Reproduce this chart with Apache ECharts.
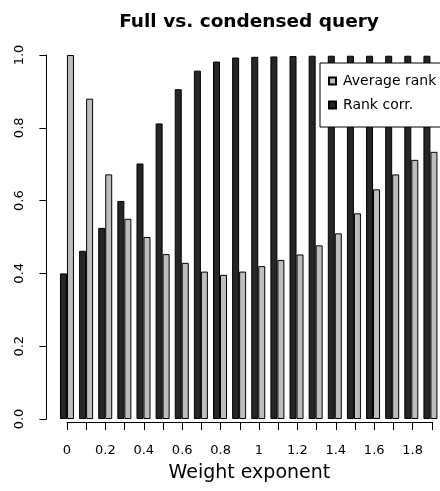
<!DOCTYPE html>
<html>
<head>
<meta charset="utf-8">
<script src="https://cdn.jsdelivr.net/npm/echarts@6/dist/echarts.min.js"></script>
<style>html,body{margin:0;padding:0;background:#fff;}#c{width:440px;height:491px;}</style>
</head>
<body>
<div id="c"></div>
<script>
var categories = ['0','0.1','0.2','0.3','0.4','0.5','0.6','0.7','0.8','0.9','1','1.1','1.2','1.3','1.4','1.5','1.6','1.7','1.8','1.9'];
var rankCorr = [0.40,0.462,0.525,0.599,0.702,0.812,0.906,0.957,0.982,0.993,0.995,0.996,0.997,0.998,0.998,0.998,0.998,0.998,0.998,0.998];
var averageRank = [1.0,0.88,0.672,0.55,0.50,0.453,0.429,0.405,0.396,0.405,0.42,0.437,0.452,0.477,0.51,0.565,0.631,0.672,0.712,0.734];
var yTicks = [0, 0.2, 0.4, 0.6, 0.8, 1.0];
var fontFam = 'DejaVu Sans, sans-serif';

var chart = echarts.init(document.getElementById('c'), null, {renderer: 'canvas'});
chart.setOption({
  animation: false,
  backgroundColor: '#fff',
  title: {
    text: 'Full vs. condensed query',
    left: 244, textAlign: 'center', top: 8,
    textStyle: {fontFamily: fontFam, fontWeight: 'bold', fontSize: 18.5, color: '#000'}
  },
  legend: {
    orient: 'vertical',
    left: 320, top: 63,
    data: ['Average rank', 'Rank corr.'],
    icon: 'rect',
    itemWidth: 7, itemHeight: 7, itemGap: 10,
    backgroundColor: '#fff',
    borderColor: '#000', borderWidth: 1, borderRadius: 0,
    padding: [11, 40, 15, 8],
    textStyle: {fontFamily: fontFam, fontSize: 14, color: '#000', lineHeight: 14, padding: [0,0,0,2]}
  },
  grid: [
    {left: 57.4, width: 384.2, top: 55, bottom: 72, containLabel: false},
    {left: 67, width: 364.8, top: 55, bottom: 69, containLabel: false}
  ],
  xAxis: [
    {type: 'category', gridIndex: 0, data: categories,
     axisLine: {show: false}, axisTick: {show: false}, axisLabel: {show: false}},
    {type: 'category', gridIndex: 1, data: categories, boundaryGap: false,
     axisLine: {show: true, lineStyle: {color: '#000', width: 1}},
     axisTick: {show: true, length: 8, interval: 0, lineStyle: {color: '#000'}},
     axisLabel: {interval: 1, margin: 22, fontFamily: fontFam, fontSize: 13, color: '#000'},
     name: 'Weight exponent', nameLocation: 'middle', nameGap: 42,
     nameTextStyle: {fontFamily: fontFam, fontSize: 19, color: '#000'}}
  ],
  yAxis: [
    {type: 'value', gridIndex: 0, min: 0, max: 1, interval: 0.2, offset: 11,
     axisLine: {show: true, lineStyle: {color: '#000'}},
     axisTick: {show: true, length: 7, lineStyle: {color: '#000'}},
     splitLine: {show: false},
     axisLabel: {rotate: 90, margin: 20, fontFamily: fontFam, fontSize: 13, color: '#000',
       formatter: function(v){ return yTicks.indexOf(Math.round(v*10)/10) >= 0 ? v.toFixed(1) : ''; }}},
    {type: 'value', gridIndex: 1, min: 0, max: 1, show: false}
  ],
  series: [
    {name: 'Rank corr.', type: 'bar', xAxisIndex: 0, yAxisIndex: 0, data: rankCorr,
     barWidth: 7, barGap: '0%',
     itemStyle: {color: '#262626', borderColor: '#000', borderWidth: 1}},
    {name: 'Average rank', type: 'bar', xAxisIndex: 0, yAxisIndex: 0, data: averageRank,
     barWidth: 7, barGap: '0%',
     itemStyle: {color: '#bdbdbd', borderColor: '#000', borderWidth: 1}}
  ]
});
</script>
</body>
</html>
